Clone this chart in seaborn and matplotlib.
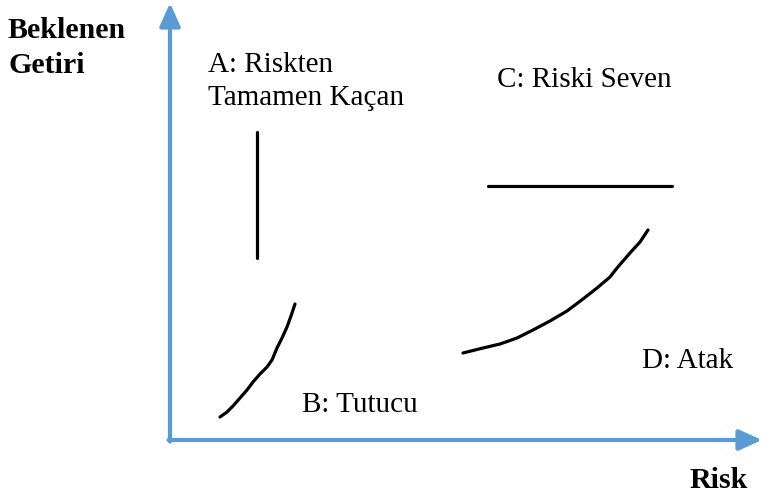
import matplotlib
matplotlib.use("Agg")
import matplotlib.pyplot as plt
import seaborn as sns

# Coordinates: origin at the corner of the risk / return axes
a_x = [87, 87]
a_y = [182, 308]

b_x = [50, 57, 63, 70, 77, 83, 90, 97, 102, 107, 112, 117, 121, 125]
b_y = [23, 28, 34, 42, 50, 58, 66, 73, 80, 92, 102, 113, 124, 136]

c_x = [318, 502]
c_y = [254, 254]

d_x = [293, 313, 330, 347, 363, 380, 397, 413, 427, 440, 447, 460, 470, 478]
d_y = [87, 92, 96, 102, 110, 119, 129, 141, 152, 163, 172, 187, 198, 210]

labels = ["A: Riskten", "Tamamen Kaçan", "C: Riski Seven", "D: Atak", "B: Tutucu"]

sns.set_theme(style="white")
plt.rcParams["font.family"] = ["Liberation Serif", "DejaVu Serif"]

fig = plt.figure(figsize=(7.62, 5.0), dpi=100)
ax = fig.add_axes([0, 0, 1, 1])
ax.set_xlim(-170, 592)
ax.set_ylim(-60, 440)
ax.axis("off")

axis_color = "#5B9BD5"
arrow = dict(arrowstyle="-|>,head_length=1.0,head_width=0.45", color=axis_color,
             lw=3, mutation_scale=14, shrinkA=0, shrinkB=0)
ax.annotate("", xy=(0, 437), xytext=(0, -1.5), arrowprops=arrow)
ax.annotate("", xy=(592, 0), xytext=(-1.5, 0), arrowprops=arrow)

for xs, ys in [(a_x, a_y), (b_x, b_y), (c_x, c_y), (d_x, d_y)]:
    sns.lineplot(x=xs, y=ys, sort=False, estimator=None, color="black",
                 linewidth=2.3, ax=ax)

bold = dict(fontsize=21.5, fontweight="bold", color="black", va="baseline")
ax.text(-162, 402, "Beklenen", ha="left", **bold)
ax.text(-162, 367, "Getiri", ha="left", **bold)
ax.text(578, -48, "Risk", ha="right", **bold)

reg = dict(fontsize=21, color="black", va="baseline", ha="left")
ax.text(38, 368, labels[0], **reg)
ax.text(38, 335, labels[1], **reg)
ax.text(327, 353, labels[2], **reg)
ax.text(472, 72, labels[3], **reg)
ax.text(132, 28, labels[4], **reg)

fig.savefig("out.png", dpi=100)
